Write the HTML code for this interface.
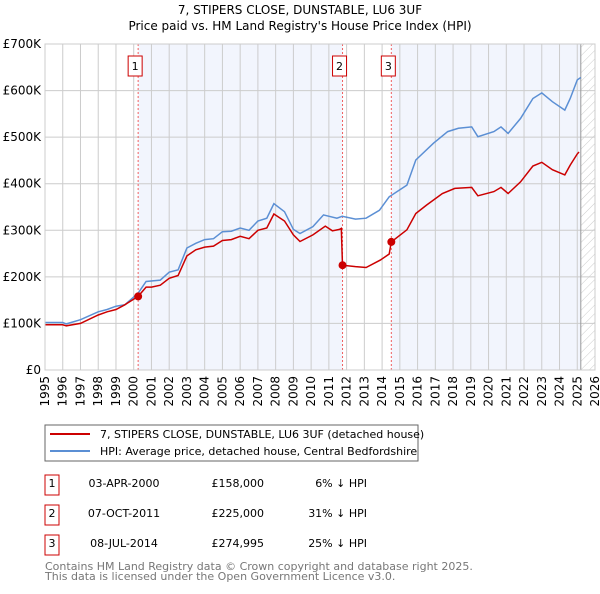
<!DOCTYPE html>
<html><head><meta charset="utf-8"><style>
body{margin:0;background:#fff;font-family:"DejaVu Sans","Liberation Sans",sans-serif}
svg text{font-family:"DejaVu Sans","Liberation Sans",sans-serif}
</style></head><body>
<svg id="c" width="600" height="590" xmlns="http://www.w3.org/2000/svg">
<defs><pattern id="hatch" width="6" height="6" patternUnits="userSpaceOnUse" patternTransform="rotate(45)"><line x1="0" y1="0" x2="0" y2="6" stroke="#ccc" stroke-width="1"/></pattern></defs>
<text x="300" y="14" text-anchor="middle" font-size="12">7, STIPERS CLOSE, DUNSTABLE, LU6 3UF</text>
<text x="300" y="30" text-anchor="middle" font-size="12">Price paid vs. HM Land Registry's House Price Index (HPI)</text>
<g id="plot"></g>
<rect x="45" y="425" width="373" height="36" fill="#fff" stroke="#666"/>
<line x1="50" y1="434" x2="90" y2="434" stroke="#cc0000" stroke-width="2"/>
<text x="100" y="438" font-size="11">7, STIPERS CLOSE, DUNSTABLE, LU6 3UF (detached house)</text>
<line x1="50" y1="451" x2="90" y2="451" stroke="#5b8fd4" stroke-width="2"/>
<text x="100" y="455" font-size="11">HPI: Average price, detached house, Central Bedfordshire</text>
<g id="tbl" font-size="11"></g>
<text x="45" y="570" font-size="11" fill="#777">Contains HM Land Registry data © Crown copyright and database right 2025.</text>
<text x="45" y="580" font-size="11" fill="#777">This data is licensed under the Open Government Licence v3.0.</text>
</svg>
<script>
const hpiYears=[1995,1996,1996.2,1997,1998,1998.5,1999,1999.5,2000.25,2000.7,2001.5,2002,2002.5,2003,2003.5,2004,2004.5,2005,2005.5,2006,2006.5,2007,2007.5,2007.9,2008.5,2009,2009.37,2010.1,2010.7,2011.45,2011.75,2012.5,2013.1,2013.85,2014.4,2015.4,2015.9,2016.9,2017.7,2018.3,2019.05,2019.4,2020.3,2020.7,2021.1,2021.8,2022.5,2023.0,2023.6,2024.3,2024.6,2025.0,2025.2];
const hpiValues=[102,102,99,108,125,130,137,140,165,190,193,210,215,262,272,280,282,297,298,305,300,320,326,357,340,302,293,308,333,326,330,324,326,343,372,397,451,487,512,519,522,501,512,522,508,540,583,595,576,558,583,623,628];
const ppYears=[1995,1996,1996.2,1997,1998,1998.5,1999,1999.5,2000.25,2000.7,2001,2001.5,2002,2002.5,2003,2003.5,2004,2004.5,2005,2005.5,2006,2006.5,2007,2007.5,2007.9,2008.5,2009,2009.37,2010.1,2010.8,2011.2,2011.6,2011.7,2011.77,2012.5,2013.1,2013.9,2014.4,2014.52,2015.4,2015.9,2016.5,2017.4,2018.1,2019.05,2019.4,2020.3,2020.7,2021.1,2021.8,2022.5,2023.0,2023.6,2024.3,2024.6,2025.0,2025.1];
const ppValues=[97,97,95,100,118,125,130,140,158,178,178,182,197,203,245,258,264,266,278,280,287,282,300,305,335,320,290,276,290,309,299,302,304,225,222,220,236,249,275,301,336,354,379,390,392,374,383,392,379,404,438,446,430,419,440,464,468];
const saleYears=[2000.25,2011.77,2014.52];
const saleValues=[158,225,274.995];
const saleLabels=["1","2","3"];
const saleDates=["03-APR-2000","07-OCT-2011","08-JUL-2014"];
const salePrices=["£158,000","£225,000","£274,995"];
const salePcts=["6% ↓ HPI","31% ↓ HPI","25% ↓ HPI"];
const yTicks=[0,100,200,300,400,500,600,700];
const yTickLabels=["£0","£100K","£200K","£300K","£400K","£500K","£600K","£700K"];
const xTicks=[1995,1996,1997,1998,1999,2000,2001,2002,2003,2004,2005,2006,2007,2008,2009,2010,2011,2012,2013,2014,2015,2016,2017,2018,2019,2020,2021,2022,2023,2024,2025,2026];

const X0=45,X1=595,Y0=370,Y1=44;
const sx=y=>X0+(y-1995)/(2026-1995)*(X1-X0);
const sy=v=>Y0-v/700*(Y0-Y1);
const NS="http://www.w3.org/2000/svg";
const g=document.getElementById('plot');
function mk(tag,attrs,parent){const e=document.createElementNS(NS,tag);for(const k in attrs)e.setAttribute(k,attrs[k]);(parent||g).appendChild(e);return e;}
let e;
e=mk('rect',{x:sx(saleYears[0]),y:Y1,width:sx(saleYears[1])-sx(saleYears[0]),height:Y0-Y1,fill:'#f2f5fd'});


e=mk('rect',{x:sx(saleYears[2]),y:Y1,width:sx(2025.2)-sx(saleYears[2]),height:Y0-Y1,fill:'#f2f5fd'});


e=mk('rect',{x:sx(2025.2),y:Y1,width:X1-sx(2025.2),height:Y0-Y1,fill:'url(#hatch)'});


xTicks.forEach(t=>{
 e=mk('line',{x1:sx(t),x2:sx(t),y1:Y1,y2:Y0,stroke:'#ccc','stroke-width':1});
 
 
 e=mk('text',{x:0,y:0,'font-size':12,'text-anchor':'end',transform:`translate(${sx(t)+4},${Y0+6}) rotate(-90)`});
 e.textContent=t;
 
 
});
yTicks.forEach((t,i)=>{
 e=mk('line',{x1:X0,x2:X1,y1:sy(t),y2:sy(t),stroke:'#ccc','stroke-width':1});
 
 
 e=mk('text',{x:X0-4,y:sy(t)+4,'font-size':12,'text-anchor':'end'});
 e.textContent=yTickLabels[i];
 
 
});
e=mk('line',{x1:sx(2025.2),x2:sx(2025.2),y1:Y1,y2:Y0,stroke:'#999','stroke-width':1});


saleYears.forEach((y,i)=>{
 e=mk('line',{x1:sx(y),x2:sx(y),y1:Y1,y2:Y0,stroke:'#f06060','stroke-width':1,'stroke-dasharray':'2,2'});
 
 
 e=mk('rect',{x:sx(y)-10,y:56,width:14,height:20,fill:'#fff',stroke:'#cc0000'});
 
 
 e=mk('text',{x:sx(y)-3,y:70,'font-size':11,'text-anchor':'middle'});
 e.textContent=saleLabels[i];
 
 
});
function path(xs,vs){return xs.map((x,i)=>(i?'L':'M')+sx(x).toFixed(1)+','+sy(vs[i]).toFixed(1)).join('');}
e=mk('path',{d:path(hpiYears,hpiValues),fill:'none',stroke:'#5b8fd4','stroke-width':1.5});


e=mk('path',{d:path(ppYears,ppValues),fill:'none',stroke:'#cc0000','stroke-width':1.5});


saleYears.forEach((y,i)=>{
 e=mk('circle',{cx:sx(y),cy:sy(saleValues[i]),r:4,fill:'#cc0000'});
 
 
});
e=mk('rect',{x:X0,y:Y1,width:X1-X0,height:Y0-Y1,fill:'none',stroke:'#ccc'});


const tb=document.getElementById('tbl');
saleLabels.forEach((l,i)=>{
 const cy=485+i*30;
 e=mk('rect',{x:45,y:cy-10,width:14,height:20,fill:'#fff',stroke:'#cc0000'},tb);
 
 
 e=mk('text',{x:52,y:cy+2,'text-anchor':'middle'},tb);e.textContent=l;
 
 
 e=mk('text',{x:124,y:cy+2,'text-anchor':'middle'},tb);e.textContent=saleDates[i];
 
 
 e=mk('text',{x:264,y:cy+2,'text-anchor':'end'},tb);e.textContent=salePrices[i];
 
 
 e=mk('text',{x:367,y:cy+2,'text-anchor':'end'},tb);e.textContent=salePcts[i];
 
 
});
</script>
</body></html>
